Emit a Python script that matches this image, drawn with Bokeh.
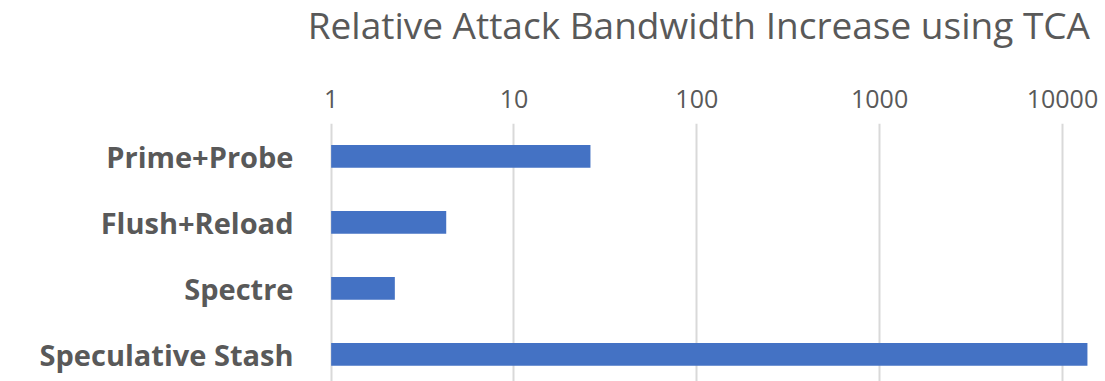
from bokeh.plotting import figure
from bokeh.models import Range1d, FixedTicker, Div
from bokeh.layouts import column
from bokeh.embed import file_html
from bokeh.resources import INLINE

categories = ["Prime+Probe", "Flush+Reload", "Spectre", "Speculative Stash"]
values = [26.2, 4.26, 2.23, 13700]
x_ticks = [1, 10, 100, 1000, 10000]
title = "Relative Attack Bandwidth Increase using TCA"

n = len(categories)
ypos = [n - 1 - i for i in range(n)]

gray = "#595959"
bar_color = "#4472C4"

x_start, x_end = 0.955, 17200
y_start, y_end = -0.41, n - 0.5

title_div = Div(
    text=('<div style="display:block;box-sizing:border-box;width:1105px;'
          'font-family:\'Open Sans\';font-size:37px;color:%s;'
          'text-align:right;padding-right:15px;line-height:50px;white-space:nowrap;">%s</div>')
    % (gray, title),
    width=1105, height=70, margin=0)

p = figure(width=1105, height=311, x_axis_type="log", x_axis_location="above",
           output_backend="svg", toolbar_location=None,
           x_range=Range1d(x_start, x_end), y_range=Range1d(y_start, y_end),
           min_border_left=327, min_border_right=0, min_border_top=53, min_border_bottom=0,
           margin=0)
p.outline_line_color = None
p.background_fill_color = "white"
p.border_fill_color = "white"

p.hbar(y=ypos, left=1, right=values, height=0.345, fill_color=bar_color, line_color=None)

xa = p.xaxis[0]
xa.ticker = FixedTicker(ticks=x_ticks)
xa.major_label_overrides = {t: str(t) for t in x_ticks}
xa.axis_line_color = None
xa.major_tick_line_color = None
xa.minor_tick_line_color = None
xa.major_label_text_font = "Open Sans"
xa.major_label_text_font_size = "25px"
xa.major_label_text_color = gray
xa.major_label_standoff = 10

ya = p.yaxis[0]
ya.ticker = FixedTicker(ticks=ypos)
ya.major_label_overrides = {y: c for y, c in zip(ypos, categories)}
ya.axis_line_color = None
ya.major_tick_line_color = None
ya.minor_tick_line_color = None
ya.major_label_text_font = "Open Sans"
ya.major_label_text_font_size = "29px"
ya.major_label_text_font_style = "bold"
ya.major_label_text_color = gray
ya.major_label_standoff = 28

p.xgrid.ticker = FixedTicker(ticks=x_ticks)
p.xgrid.grid_line_color = "#D9D9D9"
p.xgrid.grid_line_width = 2
p.ygrid.grid_line_color = None

layout = column(title_div, p, spacing=0, margin=0)

open("out.html", "w").write(file_html(layout, INLINE))
